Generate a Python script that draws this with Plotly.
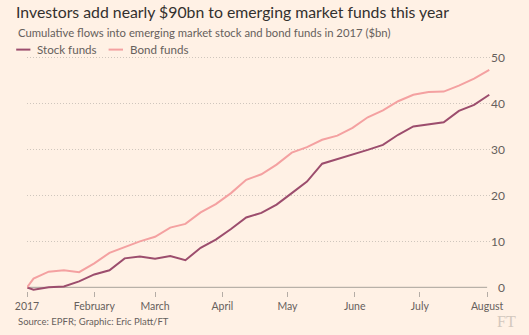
import plotly.graph_objects as go

# Weekly cumulative flows into emerging market funds, 2017 ($bn)
dates = [
    "2017-01-01", "2017-01-04", "2017-01-11", "2017-01-18", "2017-01-25",
    "2017-02-01", "2017-02-08", "2017-02-15", "2017-02-22", "2017-03-01",
    "2017-03-08", "2017-03-15", "2017-03-22", "2017-03-29", "2017-04-05",
    "2017-04-12", "2017-04-19", "2017-04-26", "2017-05-03", "2017-05-10",
    "2017-05-17", "2017-05-24", "2017-05-31", "2017-06-07", "2017-06-14",
    "2017-06-21", "2017-06-28", "2017-07-05", "2017-07-12", "2017-07-19",
    "2017-07-26", "2017-08-02",
]
stock_funds = [
    0.0, -0.5, 0.0, 0.2, 1.3, 2.8, 3.7, 6.3, 6.7, 6.2, 6.8, 5.9, 8.6, 10.4,
    12.7, 15.2, 16.2, 18.0, 20.5, 23.0, 26.9, 27.9, 28.8, 29.9, 31.0, 33.2,
    35.0, 35.4, 35.9, 38.4, 39.7, 41.9,
]
bond_funds = [
    0.0, 1.9, 3.4, 3.7, 3.3, 5.2, 7.5, 8.8, 10.0, 11.0, 13.0, 13.8, 16.3,
    18.1, 20.5, 23.4, 24.6, 26.7, 29.3, 30.5, 32.1, 33.0, 34.7, 37.0, 38.5,
    40.5, 41.9, 42.5, 42.6, 43.9, 45.4, 47.3,
]

month_ticks = ["2017-01-01", "2017-02-01", "2017-03-01", "2017-04-01",
               "2017-05-01", "2017-06-01", "2017-07-01", "2017-08-01"]
month_labels = ["2017", "February", "March", "April", "May", "June", "July", "August"]
y_ticks = [0, 10, 20, 30, 40, 50]
y_labels = ["\u20070", "10", "20", "30", "40", "50"]

series_names = ["Stock funds", "Bond funds"]
series_colors = ["#9C4D6D", "#F4A1A1"]

BG = "#FFF1E5"
TEXT_DARK = "#33302E"
TEXT_MID = "#66605C"
FONT = "Lato"

W, H = 529, 335
L, R, T, B = 27, 39, 53, 43.5
PW, PH = W - L - R, H - T - B


def px_x(p):
    return (p - L) / PW


def px_y(p):
    return (H - B - p) / PH


fig = go.Figure()
for name, vals, col in zip(series_names, [stock_funds, bond_funds], series_colors):
    fig.add_trace(go.Scatter(
        x=dates, y=vals, name=name, mode="lines",
        line=dict(color=col, width=2), hoverinfo="skip",
    ))

# baseline at zero, spanning the labelled months
fig.add_shape(type="line", xref="x", yref="y", x0=month_ticks[0], x1=month_ticks[-1],
              y0=0, y1=0, line=dict(color="#A9A29B", width=1), layer="between")

# legend keys drawn by hand
legend_items = [(16.2, 30.4, 36.4), (108.6, 123.0, 129.2)]
for (x0, x1, tx), name, col in zip(legend_items, series_names, series_colors):
    fig.add_shape(type="line", xref="paper", yref="paper",
                  x0=px_x(x0), x1=px_x(x1), y0=px_y(49.6), y1=px_y(49.6),
                  line=dict(color=col, width=2))
    fig.add_annotation(xref="paper", yref="paper", x=px_x(tx - 1), y=px_y(49.6),
                       xanchor="left", yanchor="middle", showarrow=False,
                       text=name, font=dict(family=FONT, size=11.6, color=TEXT_MID))

fig.add_annotation(xref="paper", yref="paper", x=px_x(15.5), y=px_y(32.5),
                   xanchor="left", yanchor="middle", showarrow=False,
                   text="Cumulative flows into emerging market stock and bond funds in 2017 ($bn)",
                   font=dict(family=FONT, size=11.3, color=TEXT_MID))
fig.add_annotation(xref="paper", yref="paper", x=px_x(15.5), y=px_y(321.7),
                   xanchor="left", yanchor="middle", showarrow=False,
                   text="Source: EPFR; Graphic: Eric Platt/FT",
                   font=dict(family=FONT, size=9.5, color=TEXT_MID))
fig.add_annotation(xref="paper", yref="paper", x=px_x(506), y=px_y(322),
                   xanchor="center", yanchor="middle", showarrow=False,
                   text="FT", font=dict(family="Liberation Serif", size=16, color="#D3C8BE"))

fig.update_layout(
    width=W, height=H,
    margin=dict(l=L, r=R, t=T, b=B, pad=0),
    paper_bgcolor=BG, plot_bgcolor=BG,
    showlegend=False,
    title=dict(text="Investors add nearly $90bn to emerging market funds this year",
               xref="container", yref="container", x=16 / W, y=1 - 12 / H,
               xanchor="left", yanchor="middle",
               font=dict(family=FONT, size=15.8, color=TEXT_DARK)),
    xaxis=dict(
        type="date", range=["2017-01-01", "2017-08-02 08:00"],
        tickvals=month_ticks, ticktext=month_labels,
        showgrid=False, zeroline=False, showline=False,
        ticks="outside", ticklen=5, tickwidth=1, tickcolor="#B5ADA6",
        tickfont=dict(family=FONT, size=10.5, color=TEXT_MID),
    ),
    yaxis=dict(
        side="right", range=[-0.8, 50.99],
        tickvals=y_ticks, ticktext=y_labels,
        showgrid=True, gridcolor="#CFC6BD", gridwidth=1, griddash="1px,2px",
        zeroline=True, zerolinecolor=BG, zerolinewidth=1,
        showline=False, ticks="",
        tickfont=dict(family=FONT, size=12, color=TEXT_MID),
    ),
)

fig.write_html("out.html")
